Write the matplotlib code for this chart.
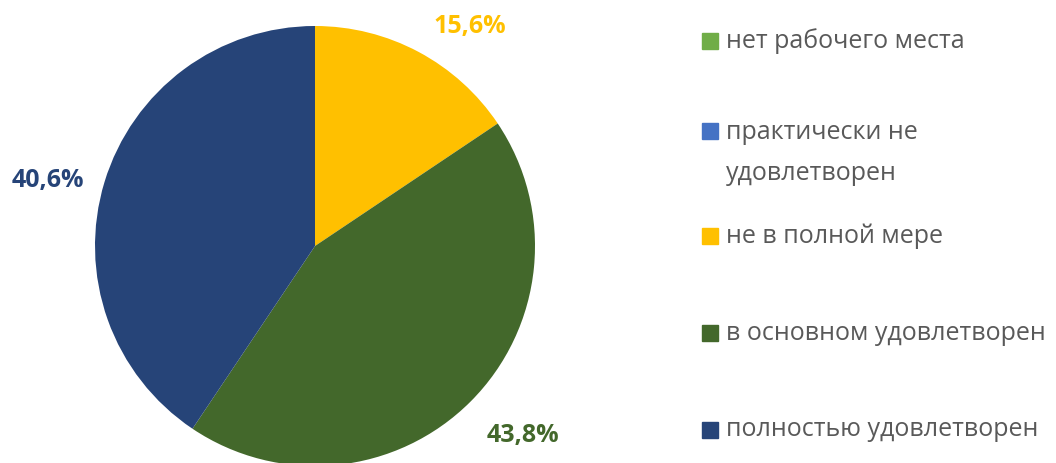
import matplotlib
matplotlib.use('Agg')
import matplotlib.pyplot as plt
from matplotlib.patches import Rectangle

plt.rcParams['font.family'] = ['Open Sans', 'DejaVu Sans']

categories = ['нет рабочего места', 'практически не\nудовлетворен', 'не в полной мере',
              'в основном удовлетворен', 'полностью удовлетворен']
values = [0.0, 0.0, 15.6, 43.8, 40.6]
colors = ['#70AD47', '#4472C4', '#FFC000', '#43682B', '#264478']

W, H = 1056, 463
fig = plt.figure(figsize=(W / 100, H / 100), dpi=100)

# pie area: centre ~ (315, 246) px, radius ~220 px
ax = fig.add_axes([95 / W, (H - 246 - 220) / H, 440 / W, 440 / H])


def fmt(p):
    return '' if p < 0.05 else f'{p:.1f}%'.replace('.', ',')


wedges, texts, autotexts = ax.pie(values, colors=colors, startangle=90, counterclock=False,
                                  autopct=fmt, pctdistance=1.25,
                                  wedgeprops=dict(linewidth=0))
# label positions as in the original (data units, radius = 1)
label_pos = [None, None, (0.705, 1.0), (0.945, -0.86), (-1.215, 0.30)]
for t, c, pos in zip(autotexts, colors, label_pos):
    t.set_color(c)
    t.set_fontsize(18)
    t.set_fontweight('bold')
    if pos is not None:
        t.set_position(pos)
ax.set_xlim(-1, 1)
ax.set_ylim(-1, 1)
ax.set_aspect('auto')
ax.axis('off')

# legend drawn by hand (rows are not evenly spaced in the original)
legend_rows = [41, 131, 236, 333, 430]
for lab, col, y in zip(categories, colors, legend_rows):
    fig.add_artist(Rectangle((702 / W, 1 - (y + 8) / H), 16 / W, 16 / H,
                             color=col, transform=fig.transFigure))
    if '\n' in lab:
        fig.text(726 / W, 1 - (y - 11) / H, lab, fontsize=18, color='#595959',
                 va='top', ha='left', linespacing=1.86)
    else:
        fig.text(726 / W, 1 - y / H, lab, fontsize=18, color='#595959',
                 va='center', ha='left')

fig.savefig('out.png', dpi=100)
